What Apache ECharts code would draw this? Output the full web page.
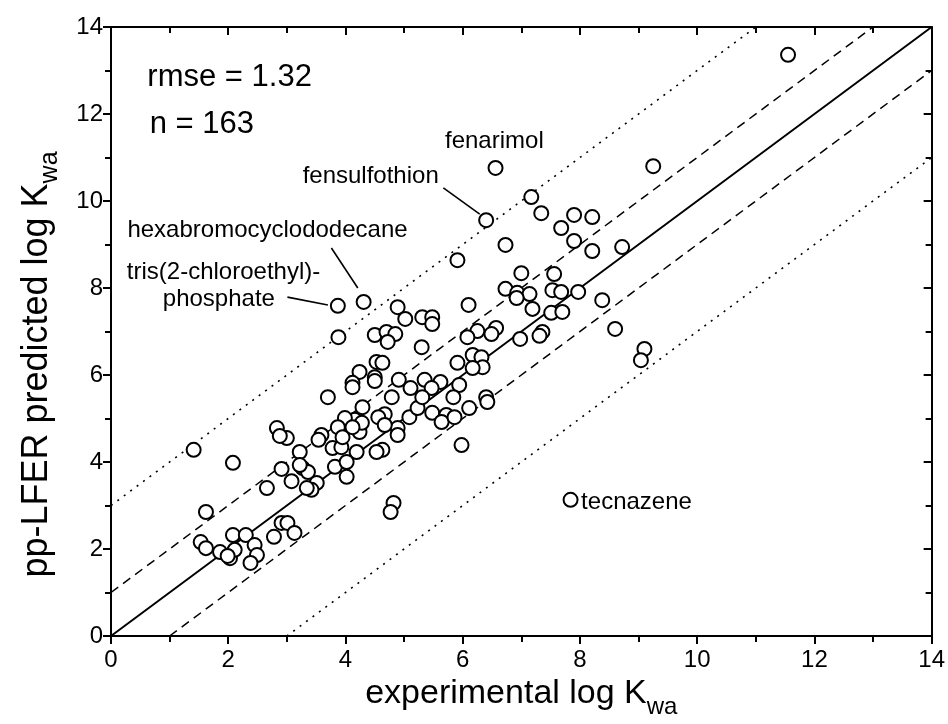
<!DOCTYPE html>
<html>
<head>
<meta charset="utf-8">
<script src="https://cdn.jsdelivr.net/npm/echarts@6/dist/echarts.min.js"></script>
<style>
html,body{margin:0;padding:0;background:#fff;}
#c{width:948px;height:724px;}
</style>
</head>
<body>
<div id="c"></div>
<script>
// experimental log Kwa (x) and pp-LFER predicted log Kwa (y)
var expX = [
11.55,9.25,6.56,7.17,6.40,7.34,7.90,8.21,7.68,7.90,8.21,8.72,6.73,5.91,7.00,7.56,4.31,3.87,6.10,6.73,
6.93,7.14,6.92,7.53,7.68,7.97,8.38,7.19,7.51,7.70,4.89,5.02,5.31,5.48,5.48,7.36,7.31,6.98,6.57,6.49,
6.25,6.08,8.60,9.10,9.04,3.88,4.50,4.70,4.85,4.72,5.30,4.53,4.63,4.24,4.50,4.50,4.12,4.12,3.70,4.29,
4.91,5.11,5.35,5.62,5.47,5.91,6.17,6.32,6.34,6.17,5.94,5.84,6.40,6.42,4.79,4.67,4.56,5.48,5.72,5.64,
5.86,6.11,4.89,4.89,4.67,5.09,5.23,4.63,4.53,4.24,4.16,3.99,3.87,3.59,3.78,3.93,4.19,4.02,3.82,3.22,
3.27,3.36,3.51,3.42,3.34,3.22,5.98,4.82,4.77,2.83,3.00,2.91,3.08,1.41,2.08,1.62,1.53,1.62,1.86,2.03,
2.11,2.08,2.30,2.45,2.49,2.38,1.99,2.66,2.78,2.91,3.01,3.13,7.84,5.31,4.28,3.95,4.12,4.02,2.88,3.54
];
var predY = [
13.36,10.80,10.76,10.09,9.56,9.72,9.68,9.63,9.38,9.08,8.85,8.94,8.99,8.64,8.34,8.32,7.68,7.59,7.61,7.98,
7.89,7.86,7.77,7.95,7.91,7.91,7.72,7.52,7.43,7.45,7.56,7.29,7.33,7.33,7.17,6.99,6.90,6.83,7.08,6.94,
7.01,6.87,7.06,6.60,6.34,6.87,6.92,6.99,6.94,6.76,6.64,6.30,6.28,6.07,5.95,5.86,5.82,5.72,5.49,5.26,
5.89,5.70,5.89,5.84,5.70,6.28,6.46,6.41,6.18,6.16,5.77,5.49,5.49,5.38,5.49,5.10,5.03,5.13,5.08,4.92,
5.03,5.24,4.78,4.62,4.85,5.03,5.24,4.28,4.23,4.69,4.97,5.01,4.80,4.62,4.32,4.34,4.23,3.66,3.89,4.23,
3.86,3.77,3.52,3.36,3.40,3.93,4.39,3.06,2.85,4.78,4.55,3.84,3.56,4.28,3.98,2.85,2.16,2.02,1.93,1.79,
1.98,2.32,2.32,2.09,1.86,1.68,1.84,3.40,2.28,2.60,2.60,2.37,3.13,5.49,4.90,4.57,4.80,4.00,4.60,4.51
];
// reference lines: 1:1, ±1, ±3
var lineOneX = [0,14], lineOneY = [0,14];
var dashUpX = [0,13], dashUpY = [1,14];
var dashDnX = [1,14], dashDnY = [0,13];
var dotUpX = [0,11], dotUpY = [3,14];
var dotDnX = [3,14], dotDnY = [0,11];
// annotation texts and anchor points (data coords)
var annTexts = ['rmse = 1.32','n = 163','fenarimol','fensulfothion','hexabromocyclododecane','tris(2-chloroethyl)-','phosphate','tecnazene'];
var annX = [0.62,0.66,6.54,4.43,2.67,1.92,1.84,8.02];
var annY = [12.83,11.77,11.36,10.57,9.33,8.37,7.75,3.08];
// leader lines (data coords)
var leadX = [[5.67,6.29],[3.76,4.21],[3.01,3.70]];
var leadY = [[10.30,9.70],[8.92,8.00],[7.79,7.61]];

function pairs(xs, ys){ return xs.map(function(v,i){return [v, ys[i]];}); }

var FONT = 'Liberation Sans, Arial, sans-serif';
var chart = echarts.init(document.getElementById('c'), null, {renderer:'canvas'});

function axisCommon(pos, inside, showLabel){
  return {
    type:'value', min:0, max:14, interval:2, position:pos,
    axisLine:{show:true, onZero:false, lineStyle:{color:'#000', width:2}},
    axisTick:{show:true, inside:inside, length:8, lineStyle:{color:'#000', width:2}},
    minorTick:{show:true, splitNumber:2, length:6, lineStyle:{color:'#000', width:2}},
    splitLine:{show:false},
    axisLabel:{show:showLabel, color:'#000', fontSize:24, fontFamily:FONT, margin:pos === 'bottom' ? 12 : 8}
  };
}

var xBottom = axisCommon('bottom', false, true);
xBottom.name = '{m|experimental log K}{s|wa}';
xBottom.nameLocation = 'middle';
xBottom.nameGap = 32;
xBottom.nameTextStyle = {rich:{
  m:{fontSize:34, fontFamily:FONT, color:'#000', verticalAlign:'top', lineHeight:38},
  s:{fontSize:24, fontFamily:FONT, color:'#000', verticalAlign:'top', lineHeight:38, padding:[18,0,0,0]}
}};
var xTop = axisCommon('top', true, false);
var yLeft = axisCommon('left', false, true);
yLeft.name = '{m|pp-LFER predicted log K}{s|wa}';
yLeft.nameLocation = 'middle';
yLeft.nameGap = 52;
yLeft.nameRotate = 90;
yLeft.nameTextStyle = {padding:[0,66,0,0], rich:{
  m:{fontSize:36, fontFamily:FONT, color:'#000', verticalAlign:'top', lineHeight:40},
  s:{fontSize:25, fontFamily:FONT, color:'#000', verticalAlign:'top', lineHeight:40, padding:[19,0,0,0]}
}};
var yRight = axisCommon('right', true, false);

function refLine(xs, ys, type, w){
  return {type:'line', data:pairs(xs,ys), showSymbol:false, symbol:'none', silent:true,
    lineStyle:{color:'#000', width:w, type:type}, z:2, animation:false};
}

var series = [
  refLine(lineOneX, lineOneY, 'solid', 2),
  refLine(dashUpX, dashUpY, [9,6], 1.5),
  refLine(dashDnX, dashDnY, [9,6], 1.5),
  refLine(dotUpX, dotUpY, [2,6], 1.6),
  refLine(dotDnX, dotDnY, [2,6], 1.6)
];
leadX.forEach(function(lx, i){ series.push(refLine(lx, leadY[i], 'solid', 1.6)); });
series.push({
  type:'scatter', data:pairs(expX, predY), symbol:'circle', symbolSize:14,
  itemStyle:{color:'#fff', borderColor:'#000', borderWidth:2, opacity:1}, z:5, animation:false
});

chart.setOption({
  backgroundColor:'#fff',
  animation:false,
  grid:{left:111, right:15, top:27, bottom:88, containLabel:false},
  xAxis:[xBottom, xTop],
  yAxis:[yLeft, yRight],
  series:series
});

// annotation text as graphics anchored at data coordinates
var annStyle = [
  {size:31, align:'left'},{size:31, align:'left'},
  {size:24, align:'center'},{size:24, align:'center'},{size:24, align:'center'},
  {size:24, align:'center'},{size:24, align:'center'},{size:24, align:'left'}
];
var gr = annTexts.map(function(t, i){
  var p = chart.convertToPixel({xAxisIndex:0, yAxisIndex:0}, [annX[i], annY[i]]);
  return {type:'text', x:p[0], y:p[1], z:10, style:{text:t, fill:'#000', fontSize:annStyle[i].size,
    fontFamily:FONT, align:annStyle[i].align, verticalAlign:'middle'}};
});
chart.setOption({graphic:gr});
</script>
</body>
</html>
